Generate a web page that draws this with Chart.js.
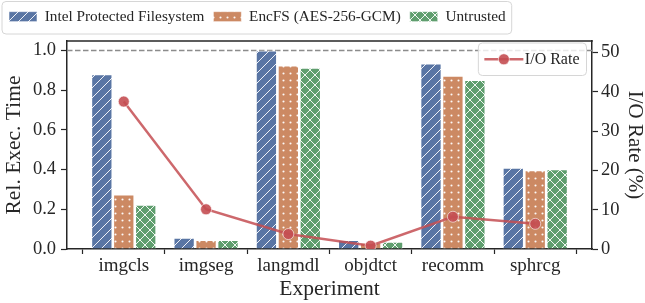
<!DOCTYPE html>
<html><head><meta charset="utf-8">
<script src="https://cdn.jsdelivr.net/npm/chart.js@4/dist/chart.umd.min.js"></script>
<style>html,body{margin:0;padding:0;background:#fff}#wrap{width:645px;height:303px;position:relative}</style>
</head><body><div id="wrap"><canvas id="c" width="645" height="303"></canvas></div>
<script>
const categories = ['imgcls','imgseg','langmdl','objdtct','recomm','sphrcg'];
const intelPFS  = [0.880, 0.057, 1.000, 0.045, 0.935, 0.410];
const encfs     = [0.274, 0.045, 0.925, 0.032, 0.873, 0.397];
const untrusted = [0.223, 0.045, 0.913, 0.036, 0.851, 0.402];
const ioRate    = [37.5, 10.1, 3.8, 0.85, 8.2, 6.4];
const leftTicks  = [0.0, 0.2, 0.4, 0.6, 0.8, 1.0];
const rightTicks = [0, 10, 20, 30, 40, 50];
const seriesNames = ['Intel Protected Filesystem', 'EncFS (AES-256-GCM)', 'Untrusted'];
const lineName = 'I/O Rate';

const BLUE = '#5975A4', ORANGE = '#CC8963', GREEN = '#5F9E6E', RED = '#C44E52';
const INK = '#262626';
const FONT = "'Liberation Serif', 'DejaVu Serif', serif";

function makePattern(kind, color) {
  const s = kind === 'dots' ? 7 : 10;
  const c = document.createElement('canvas'); c.width = s; c.height = s;
  const x = c.getContext('2d');
  x.fillStyle = color; x.fillRect(0, 0, s, s);
  x.strokeStyle = 'rgba(255,255,255,0.9)'; x.fillStyle = 'rgba(255,255,255,0.95)'; x.lineWidth = 1;
  if (kind === 'diag') {
    x.beginPath();
    x.moveTo(-1, s + 1); x.lineTo(s + 1, -1);
    x.moveTo(-1, 1); x.lineTo(1, -1);
    x.moveTo(s - 1, s + 1); x.lineTo(s + 1, s - 1);
    x.stroke();
  } else if (kind === 'dots') {
    x.beginPath(); x.arc(s / 2, s / 2, 1.05, 0, Math.PI * 2); x.fill();
  } else {
    x.beginPath();
    x.moveTo(-1, s + 1); x.lineTo(s + 1, -1);
    x.moveTo(-1, -1); x.lineTo(s + 1, s + 1);
    x.moveTo(-1, 1); x.lineTo(1, -1);
    x.moveTo(s - 1, s + 1); x.lineTo(s + 1, s - 1);
    x.moveTo(s - 1, -1); x.lineTo(s + 1, 1);
    x.moveTo(-1, s - 1); x.lineTo(1, s + 1);
    x.stroke();
  }
  return x.createPattern(c, 'repeat');
}

const toXY = arr => arr.map((v, i) => ({x: i, y: v}));

const framePlugin = {
  id: 'frame',
  beforeLayout(chart) {
    const lg = chart.legend;
    if (lg && !lg._patched) {
      const f = lg.fit.bind(lg);
      lg.fit = function () { f(); this.height = 41; };
      lg._patched = true;
    }
  },
  beforeDatasetsDraw(chart) {
    const {ctx, chartArea} = chart;
    const y = chart.scales.y.getPixelForValue(1.0);
    ctx.save();
    ctx.strokeStyle = '#8c8c8c'; ctx.lineWidth = 1.5; ctx.setLineDash([5.5, 2.5]);
    ctx.beginPath(); ctx.moveTo(chartArea.left, y); ctx.lineTo(chartArea.right, y); ctx.stroke();
    ctx.restore();
  },
  afterDraw(chart) {
    const {ctx, chartArea} = chart;
    ctx.save();
    ctx.strokeStyle = INK; ctx.lineWidth = 1.5;
    ctx.beginPath(); ctx.moveTo(chartArea.left - 0.75, chartArea.top); ctx.lineTo(chartArea.right + 0.75, chartArea.top); ctx.stroke();
    const hb = chart.legend.legendHitBoxes;
    if (hb && hb.length) {
      const l = Math.min(...hb.map(h => h.left)) - 7;
      const r = Math.max(...hb.map(h => h.left + h.width)) + 6;
      roundRect(ctx, l, 1.5, r - l, 32.5, 4);
      ctx.strokeStyle = '#d6d6d6'; ctx.lineWidth = 1; ctx.stroke();
    }
    ctx.font = '16px ' + FONT;
    const tw = ctx.measureText(lineName).width;
    const right = chartArea.right - 5.5, top = chartArea.top + 2, h = 32.5;
    const w = 6 + 39 + 1.5 + tw + 7;
    const left = right - w;
    roundRect(ctx, left, top, w, h, 4);
    ctx.fillStyle = 'rgba(255,255,255,0.8)'; ctx.fill();
    ctx.strokeStyle = '#d6d6d6'; ctx.lineWidth = 1; ctx.stroke();
    const cy = top + h / 2;
    ctx.strokeStyle = 'rgba(196,78,82,0.85)'; ctx.lineWidth = 2.5;
    ctx.beginPath(); ctx.moveTo(left + 6, cy); ctx.lineTo(left + 45, cy); ctx.stroke();
    ctx.beginPath(); ctx.arc(left + 25.5, cy, 5.5, 0, Math.PI * 2);
    ctx.fillStyle = 'rgba(196,78,82,0.9)'; ctx.fill();
    ctx.strokeStyle = 'rgba(255,255,255,0.6)'; ctx.lineWidth = 1; ctx.stroke();
    ctx.fillStyle = INK; ctx.textBaseline = 'middle'; ctx.textAlign = 'left';
    ctx.fillText(lineName, left + 46.5, cy + 0.5);
    ctx.restore();
  }
};
function roundRect(ctx, x, y, w, h, r) {
  ctx.beginPath();
  ctx.moveTo(x + r, y); ctx.lineTo(x + w - r, y); ctx.quadraticCurveTo(x + w, y, x + w, y + r);
  ctx.lineTo(x + w, y + h - r); ctx.quadraticCurveTo(x + w, y + h, x + w - r, y + h);
  ctx.lineTo(x + r, y + h); ctx.quadraticCurveTo(x, y + h, x, y + h - r);
  ctx.lineTo(x, y + r); ctx.quadraticCurveTo(x, y, x + r, y);
  ctx.closePath();
}

Chart.defaults.font.family = FONT;
Chart.defaults.color = INK;

const barCommon = {borderWidth: 1, borderColor: 'rgba(255,255,255,0.55)', categoryPercentage: 0.8, barPercentage: 0.97, yAxisID: 'y', order: 2};

new Chart(document.getElementById('c'), {
  type: 'bar',
  data: {
    datasets: [
      Object.assign({label: seriesNames[0], data: toXY(intelPFS), backgroundColor: makePattern('diag', BLUE)}, barCommon),
      Object.assign({label: seriesNames[1], data: toXY(encfs), backgroundColor: makePattern('dots', ORANGE)}, barCommon),
      Object.assign({label: seriesNames[2], data: toXY(untrusted), backgroundColor: makePattern('cross', GREEN)}, barCommon),
      {type: 'line', label: lineName, data: toXY(ioRate), yAxisID: 'y2', order: 0,
       borderColor: 'rgba(196,78,82,0.85)', borderWidth: 2.5, pointRadius: 5.5,
       pointBackgroundColor: 'rgba(196,78,82,0.9)', pointBorderColor: 'rgba(255,255,255,0.6)', pointBorderWidth: 1,
       tension: 0, fill: false}
    ]
  },
  options: {
    responsive: false, animation: false, devicePixelRatio: 1,
    layout: {padding: {left: 0, right: 0, top: 0, bottom: 0}},
    plugins: {
      tooltip: {enabled: false},
      legend: {
        position: 'top', align: 'start',
        labels: {
          filter: item => item.text !== lineName,
          boxWidth: 28, boxHeight: 10, padding: 9,
          font: {size: 15.3, lineHeight: 1}, color: INK
        }
      }
    },
    scales: {
      x: {
        type: 'linear', min: -0.69, max: 5.69, offset: false,
        afterFit: s => { s.height = 54; },
        afterBuildTicks: s => { s.ticks = categories.map((c, i) => ({value: i})); },
        ticks: {callback: v => categories[v], font: {size: 19}, padding: 1, color: INK, maxRotation: 0, autoSkip: false},
        grid: {display: true, drawOnChartArea: false, drawTicks: true, tickLength: 5, color: INK, tickWidth: 1.2},
        border: {display: true, color: INK, width: 1.5},
        title: {display: true, text: 'Experiment', font: {size: 21.5, lineHeight: 1}, color: INK, padding: {top: 0, bottom: 3}}
      },
      y: {
        type: 'linear', position: 'left', min: 0, max: 1.048,
        afterFit: s => { s.width = 67; },
        afterBuildTicks: s => { s.ticks = leftTicks.map(v => ({value: v})); },
        ticks: {callback: v => Number(v).toFixed(1), font: {size: 18.5}, padding: 5, color: INK},
        grid: {display: true, drawOnChartArea: false, drawTicks: true, tickLength: 6, color: INK, tickWidth: 1.2},
        border: {display: true, color: INK, width: 1.5},
        title: {display: true, text: 'Rel. Exec. Time', font: {size: 21.5, lineHeight: 1}, color: INK, padding: 4}
      },
      y2: {
        type: 'linear', position: 'right', min: 0, max: 52.9,
        afterFit: s => { s.width = 53; },
        afterBuildTicks: s => { s.ticks = rightTicks.map(v => ({value: v})); },
        ticks: {callback: v => String(v), font: {size: 18.5}, padding: 3, color: INK},
        grid: {display: true, drawOnChartArea: false, drawTicks: true, tickLength: 6, color: INK, tickWidth: 1.2},
        border: {display: true, color: INK, width: 1.5},
        title: {display: true, text: 'I/O Rate (%)', font: {size: 21, lineHeight: 1}, color: INK, padding: 0}
      }
    }
  },
  plugins: [framePlugin]
});
</script></body></html>
